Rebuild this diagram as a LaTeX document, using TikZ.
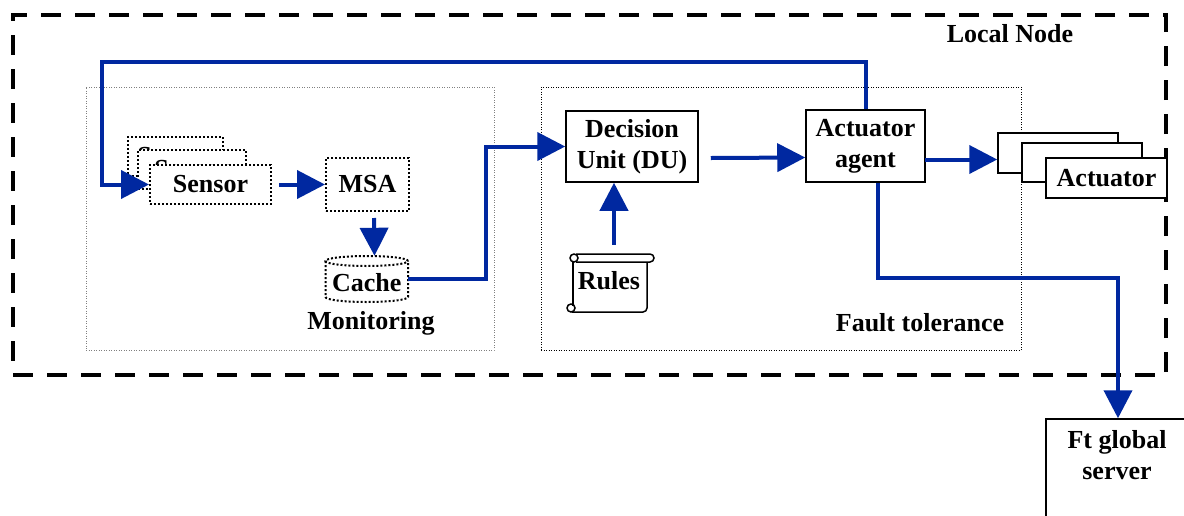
\documentclass[tikz,border=0pt]{standalone}
\usepackage{fontspec}
\setmainfont{Liberation Serif}
\usetikzlibrary{arrows.meta}
\definecolor{flow}{RGB}{0,40,160}
\begin{document}
\begin{tikzpicture}[x=1pt,y=-1pt,
 lbl/.style={font=\bfseries\fontsize{26}{31}\selectfont, align=center, inner sep=0pt},
 dotbox/.style={draw, line width=2pt, dash pattern=on 2pt off 2pt, fill=white, inner sep=0pt},
 solidbox/.style={draw, line width=1.5pt, fill=white, inner sep=0pt, font=\bfseries\fontsize{26}{31}\selectfont, align=center},
 flowline/.style={draw=flow, line width=4pt},
 flowarrow/.style={flowline, -{Triangle[length=28pt,width=28pt]}},
 region/.style={draw, line width=1pt, dash pattern=on 1pt off 1.5pt},
 scrollline/.style={draw, line width=1.5pt}]
\useasboundingbox (0,0) rectangle (1184,515);
\clip (0,0) rectangle (1184,515);

% outer local node frame
\node[draw, line width=4.5pt, dash pattern=on 20pt off 14pt, minimum width=1153pt, minimum height=360pt, inner sep=0pt] (local) at (589.5,195) {};
\node[lbl] (localtxt) at (1010,34) {Local Node};

% regions
\node[region, draw=gray, minimum width=408pt, minimum height=263pt, inner sep=0pt] (monitor) at (290,218.5) {};
\node[lbl] (montxt) at (371,323) {Monitoring};
\node[region, minimum width=480pt, minimum height=263pt, inner sep=0pt] (fault) at (781,218.5) {};
\node[lbl] (faulttxt) at (920,323) {Fault tolerance};

% sensors
\node[dotbox, lbl, minimum width=95pt, minimum height=39pt] (sensA) at (175,156.5) {Sensor};
\node[dotbox, lbl, minimum width=108pt, minimum height=39pt] (sensB) at (192,169.5) {Sensor};
\node[dotbox, lbl, minimum width=121pt, minimum height=39pt] (sensor) at (210.5,184.5) {Sensor};

% MSA
\node[dotbox, lbl, minimum width=83pt, minimum height=53pt] (msa) at (367.5,184.5) {MSA};

% Cache cylinder
\node[minimum width=82.5pt, minimum height=46pt, inner sep=0pt] (cache) at (366.75,279) {};
\draw[line width=2pt, dash pattern=on 2pt off 2pt] (366.75,261) ellipse [x radius=41.25pt, y radius=5pt];
\draw[line width=2pt, dash pattern=on 2pt off 2pt] (325.5,261) -- (325.5,297) arc[start angle=180, end angle=360, x radius=41.25pt, y radius=5pt] -- (408,261);
\node[lbl] (cachetxt) at (366.75,283) {Cache};

% Decision unit
\node[solidbox, minimum width=132pt, minimum height=71pt] (du) at (632,146.5) {Decision\\Unit (DU)};

% Rules scroll
\node[minimum width=86pt, minimum height=58pt, inner sep=0pt] (rules) at (610,283) {};
\draw[scrollline] (576,254) -- (650,254) arc[start angle=90, end angle=-90, radius=4pt] -- (576,262);
\draw[scrollline] (574,258) circle[radius=4pt];
\draw[scrollline] (573,262) -- (573,306);
\draw[scrollline, rounded corners=4pt] (647,262) -- (647,312) -- (572,312);
\draw[scrollline] (571,308) circle[radius=4pt];
\node[lbl] (rulestxt) at (609,281) {Rules};

% Actuator agent
\node[solidbox, minimum width=119pt, minimum height=72pt] (aa) at (865.5,146) {Actuator\\agent};

% Actuators
\node[solidbox, minimum width=120pt, minimum height=40pt] (act1) at (1058,153) {};
\node[solidbox, minimum width=120pt, minimum height=39pt] (act2) at (1082,162.5) {};
\node[solidbox, minimum width=121pt, minimum height=40pt] (act3) at (1106.5,178) {Actuator};

% Ft global server
\node[draw, line width=1.5pt, minimum width=142pt, minimum height=111pt, inner sep=0pt] (ft) at (1117,474.5) {};
\node[lbl] (fttxt) at (1117,455) {Ft global\\server};

% connectors
\coordinate (tl) at (102,62);
\draw[flowarrow] (aa.north) |- (tl) |- (sensor.west);
\draw[flowarrow] ([xshift=7pt]sensor.east) -- (msa.west);
\draw[flowarrow] ([xshift=6.5pt,yshift=-6pt]msa.south) -- ([xshift=7pt]msa.south |- cache.north);
\coordinate (cj) at (486,279);
\draw[flowarrow] (cache.east) -- (cj) |- (du.west);
\draw[flowarrow] ([xshift=4pt,yshift=9pt]rules.north) -- ([xshift=4pt]rules.north |- du.south);
\draw[flowarrow] ([xshift=12pt,yshift=-11.5pt]du.east) -- ([yshift=-11.5pt]aa.west);
\coordinate (ap) at (925,159.5);
\draw[flowarrow] (ap) -- (ap -| act1.west);
\coordinate (bj) at (1118,278);
\draw[flowarrow] ([xshift=12.5pt]aa.south) |- (bj) -- (bj |- ft.north);
\end{tikzpicture}
\end{document}
